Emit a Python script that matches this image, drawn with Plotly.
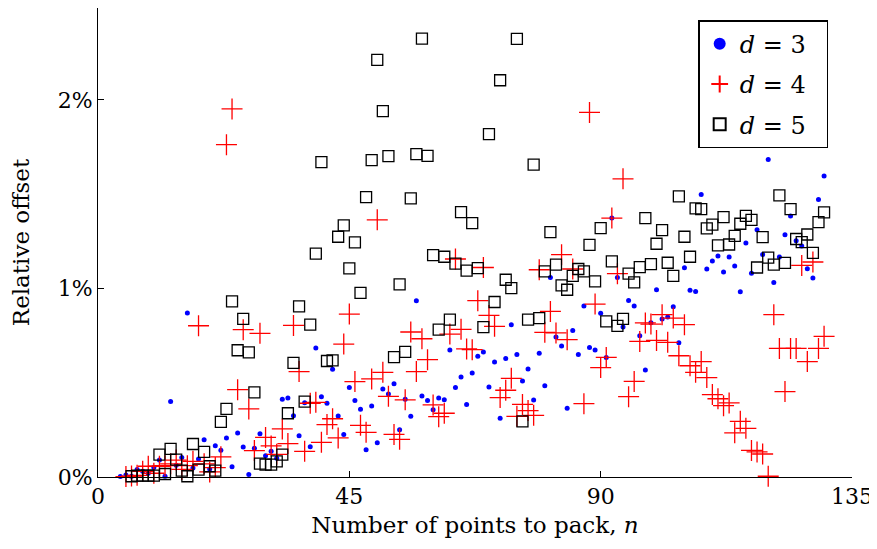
import plotly.graph_objects as go

# d = 3 relative offset (%), keyed by n
d3 = {
    4: 0.002, 5: 0.01, 6: 0.004, 7: 0.04, 8: 0.03, 9: 0.02, 10: 0.05, 11: 0.09, 12: 0.004,
    13: 0.40, 14: 0.062, 15: 0.104, 16: 0.87, 17: 0.048, 18: 0.096, 19: 0.198, 20: 0.043,
    21: 0.166, 22: 0.142, 23: 0.207, 24: 0.054, 25: 0.233, 26: 0.159, 27: 0.013, 28: 0.152,
    29: 0.230, 30: 0.113, 31: 0.136, 32: 0.10, 33: 0.412, 34: 0.419, 35: 0.325, 36: 0.219,
    37: 0.394, 38: 0.161, 39: 0.684, 40: 0.426, 41: 0.391, 42: 0.571, 43: 0.324, 44: 0.225,
    45: 0.474, 46: 0.406, 47: 0.359, 48: 0.145, 49: 0.377, 50: 0.181, 51: 0.467, 52: 0.44,
    53: 0.495, 54: 0.25, 55: 0.412, 56: 0.322, 57: 0.935, 58: 0.43, 59: 0.405, 60: 0.356,
    61: 0.419, 62: 0.409, 63: 0.673, 64: 0.474, 65: 0.53, 66: 0.385, 67: 0.552, 68: 0.64,
    69: 0.663, 70: 0.477, 71: 0.61, 72: 0.311, 73: 0.629, 74: 0.808, 75: 0.65, 76: 0.509,
    77: 0.573, 78: 0.408, 79: 0.656, 80: 0.484, 81: 1.058, 82: 0.742, 83: 0.695, 84: 0.364,
    85: 0.777, 86: 0.65, 87: 0.907, 88: 0.687, 89: 0.673, 90: 0.868, 91: 0.634, 92: 1.373,
    93: 1.058, 94: 0.795, 95: 0.936, 96: 0.907, 97: 0.749, 98: 0.567, 99: 0.818, 100: 0.993,
    101: 0.838, 102: 0.848, 103: 0.903, 104: 0.712, 105: 1.11, 106: 0.99, 107: 0.984,
    108: 1.498, 109: 1.103, 110: 1.145, 111: 1.172, 112: 1.087, 113: 1.166, 114: 1.119,
    115: 0.983, 116: 1.241, 117: 1.08, 118: 1.311, 119: 1.18, 120: 1.684, 121: 1.032,
    122: 1.166, 123: 1.285, 124: 1.384, 125: 1.253, 126: 1.225, 127: 1.104, 128: 1.055,
    129: 1.472, 130: 1.596,
}

# d = 4 relative offset (%)
d4 = {
    5: 0.002, 6: 0.005, 7: 0.009, 8: 0.03, 9: 0.057, 10: 0.02, 11: 0.057, 12: 0.06, 13: 0.07,
    14: 0.09, 15: 0.04, 16: 0.06, 17: 0.083, 18: 0.802, 19: 0.07, 20: 0.027, 21: 0.05,
    22: 0.107, 23: 1.762, 24: 1.952, 25: 0.463, 26: 0.781, 27: 0.361, 28: 0.14, 29: 0.762,
    30: 0.21, 31: 0.165, 32: 0.12, 33: 0.255, 34: 0.177, 35: 0.804, 36: 0.559, 37: 0.136,
    38: 0.391, 39: 0.396, 40: 0.184, 41: 0.278, 42: 0.309, 43: 0.207, 44: 0.705, 45: 0.864,
    46: 0.506, 47: 0.274, 48: 0.237, 49: 0.52, 50: 1.364, 51: 0.555, 52: 0.428, 53: 0.226,
    54: 0.2, 55: 0.409, 56: 0.769, 57: 0.559, 58: 0.733, 59: 0.622, 60: 0.382, 61: 0.32,
    62: 0.338, 63: 0.758, 64: 1.156, 65: 0.783, 66: 0.679, 67: 0.675, 68: 0.935, 69: 1.111,
    70: 0.857, 71: 0.799, 72: 0.421, 73: 0.46, 74: 0.523, 75: 0.322, 76: 0.385, 77: 0.352,
    78: 0.327, 79: 1.099, 80: 0.767, 81: 0.878, 82: 0.764, 83: 1.179, 84: 0.728, 85: 1.103,
    87: 0.389, 88: 1.933, 89: 0.917, 90: 0.58, 91: 0.634, 92: 1.373, 93: 1.078, 94: 1.581,
    95: 0.426, 96: 0.507, 97: 0.719, 98: 0.817, 99: 0.811, 100: 0.724, 101: 0.861,
    102: 0.714, 103: 0.843, 104: 0.643, 105: 0.808, 106: 0.59, 107: 0.555, 108: 0.612,
    109: 0.527, 110: 0.437, 111: 0.415, 112: 0.378, 113: 0.393, 114: 0.234, 115: 0.295,
    116: 0.258, 117: 0.141, 118: 0.133, 119: 0.122, 120: 0.004, 121: 0.861, 122: 0.682,
    123: 0.453, 124: 0.682, 125: 0.682, 126: 1.122, 127: 0.612, 128: 1.14, 129: 0.682,
    130: 0.746,
}

# d = 5 relative offset (%)
d5 = {
    6: 0.004, 7: 0.007, 8: 0.007, 9: 0.007, 10: 0.007, 11: 0.119, 12: 0.016, 13: 0.149,
    14: 0.092, 15: 0.034, 16: 0.004, 17: 0.175, 18: 0.039, 19: 0.133, 20: 0.057, 21: 0.034,
    22: 0.292, 23: 0.361, 24: 0.931, 25: 0.672, 26: 0.838, 27: 0.661, 28: 0.449, 29: 0.071,
    30: 0.066, 31: 0.066, 32: 0.083, 33: 0.119, 34: 0.338, 35: 0.605, 36: 0.905, 37: 0.40,
    38: 0.808, 39: 1.185, 40: 1.67, 41: 0.615, 42: 0.618, 43: 1.274, 44: 1.334, 45: 1.106,
    46: 1.244, 47: 0.976, 48: 1.484, 49: 1.68, 50: 2.212, 51: 1.94, 52: 1.702, 53: 0.636,
    54: 1.021, 55: 0.663, 56: 1.477, 57: 1.712, 58: 2.325, 59: 1.703, 60: 1.177, 61: 0.781,
    62: 1.168, 63: 0.834, 64: 1.132, 65: 1.405, 66: 1.094, 67: 1.346, 68: 1.108, 69: 0.795,
    70: 1.818, 71: 0.928, 72: 2.104, 73: 1.046, 74: 1.002, 75: 2.323, 76: 0.295, 77: 0.834,
    78: 1.656, 79: 0.843, 80: 1.09, 81: 1.299, 82: 1.126, 83: 1.016, 84: 0.993, 85: 1.067,
    86: 1.103, 87: 1.09, 88: 1.231, 89: 1.037, 90: 1.32, 91: 0.825, 92: 1.143, 93: 0.801,
    94: 0.838, 95: 1.078, 96: 1.032, 97: 1.113, 98: 1.373, 99: 1.129, 100: 1.237,
    101: 1.309, 102: 1.136, 103: 1.067, 104: 1.488, 105: 1.274, 106: 1.168, 107: 1.424,
    108: 1.421, 109: 1.318, 110: 1.338, 111: 1.228, 112: 1.378, 113: 1.233, 114: 1.279,
    115: 1.343, 116: 1.385, 117: 1.364, 118: 1.111, 119: 1.272, 120: 1.163, 121: 1.126,
    122: 1.493, 123: 1.135, 124: 1.421, 125: 1.262, 126: 1.246, 127: 1.286, 128: 1.188,
    129: 1.352, 130: 1.403,
}

x_ticks = [0, 45, 90, 135]
y_ticks = [0, 1, 2]
y_tick_labels = ["0%", "1%", "2%"]

FONT = "DejaVu Serif"

fig = go.Figure()
fig.add_trace(go.Scatter(
    x=list(d3.keys()), y=list(d3.values()), mode="markers", name="<i>d</i> = 3  ",
    legendgroup="g3",
    marker=dict(symbol="circle", size=5, color="#0000ff", line=dict(width=0)),
    cliponaxis=False,
))
fig.add_trace(go.Scatter(
    x=list(d4.keys()), y=list(d4.values()), mode="markers", name="<i>d</i> = 4  ",
    legendgroup="g4",
    marker=dict(symbol="cross-thin", size=15, color="#ff0000", line=dict(width=1.3, color="#ff0000")),
    cliponaxis=False,
))
fig.add_trace(go.Scatter(
    x=list(d5.keys()), y=list(d5.values()), mode="markers", name="<i>d</i> = 5  ",
    legendgroup="g5",
    marker=dict(symbol="square-open", size=11, color="black", line=dict(width=1.3, color="black")),
    cliponaxis=False,
))

# page body has an 8px margin; figure shrunk by 8px and margins compensated
fig.update_layout(
    width=869, height=541,
    margin=dict(l=90, r=25, t=0, b=72),
    plot_bgcolor="white", paper_bgcolor="white",
    font=dict(family=FONT, size=20, color="black"),
    showlegend=True,
    legend=dict(
        x=0.796, y=0.974, xanchor="left", yanchor="top",
        bordercolor="black", borderwidth=1.5, bgcolor="white",
        font=dict(family=FONT, size=24), itemsizing="constant",
        tracegroupgap=6, itemwidth=30,
    ),
)
fig.update_xaxes(
    range=[0, 135], tickvals=x_ticks, ticktext=[str(v) for v in x_ticks],
    showgrid=False, zeroline=False, showline=True, linecolor="black", linewidth=1,
    ticks="inside", ticklen=6, tickcolor="black", mirror=False, automargin=False,
    title=dict(text="Number of points to pack, <i>n</i>", standoff=8, font=dict(size=23)),
    tickfont=dict(size=22),
)
fig.update_yaxes(
    range=[0, 2.487], tickvals=y_ticks, ticktext=y_tick_labels,
    showgrid=False, zeroline=False, showline=True, linecolor="black", linewidth=1,
    ticks="inside", ticklen=6, tickcolor="black", mirror=False, automargin=False,
    title=dict(text="Relative offset", standoff=22, font=dict(size=23)),
    tickfont=dict(size=22),
)

fig.write_html("out.html")
